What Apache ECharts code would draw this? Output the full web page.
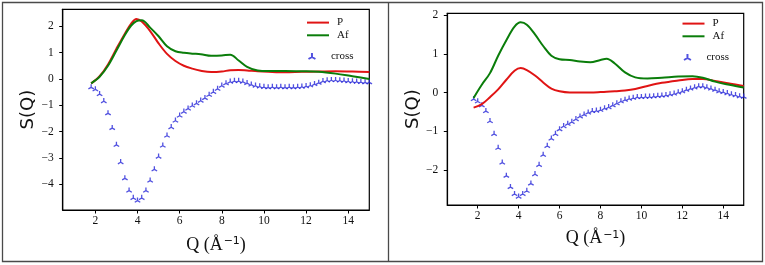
<!DOCTYPE html>
<html>
<head>
<meta charset="utf-8">
<script src="https://cdn.jsdelivr.net/npm/echarts@6/dist/echarts.min.js"></script>
<style>
html,body{margin:0;padding:0;background:#fff;}
#c{width:765px;height:265px;}
</style>
</head>
<body>
<div id="c"></div>
<script>
// ---------- data ----------
// Left panel: smooth curves
const qLineL = [1.8, 2.2, 2.6, 3.0, 3.4, 3.7, 3.95, 4.2, 4.6, 5.0, 5.4, 5.8, 6.2, 6.6, 7.0, 7.5, 8.0, 8.4, 8.8, 9.2, 9.7, 10.2, 11.0, 11.8, 12.6, 13.4, 14.2, 15.0];
const pL  = [-0.17, 0.10, 0.55, 1.15, 1.72, 2.10, 2.28, 2.18, 1.82, 1.35, 0.95, 0.68, 0.50, 0.39, 0.31, 0.26, 0.28, 0.33, 0.34, 0.32, 0.29, 0.27, 0.25, 0.27, 0.28, 0.29, 0.28, 0.26];
const afL = [-0.17, 0.08, 0.50, 1.08, 1.67, 2.03, 2.20, 2.23, 1.95, 1.62, 1.24, 1.05, 0.99, 0.96, 0.94, 0.88, 0.89, 0.92, 0.70, 0.46, 0.32, 0.30, 0.30, 0.29, 0.27, 0.20, 0.10, 0.00];

// Right panel: smooth curves
const qLineR = [1.8, 2.2, 2.6, 3.0, 3.4, 3.8, 4.1, 4.4, 4.8, 5.2, 5.6, 6.0, 6.5, 7.0, 7.5, 8.0, 8.3, 8.7, 9.2, 9.7, 10.3, 11.0, 11.8, 12.5, 13.0, 13.6, 14.3, 15.0];
const pR  = [-0.39, -0.30, -0.12, 0.08, 0.33, 0.56, 0.63, 0.58, 0.44, 0.26, 0.10, 0.03, 0.00, 0.00, 0.00, 0.01, 0.02, 0.03, 0.05, 0.09, 0.17, 0.25, 0.31, 0.35, 0.35, 0.30, 0.23, 0.17];
const afR = [-0.14, 0.20, 0.50, 0.95, 1.35, 1.70, 1.81, 1.75, 1.50, 1.20, 0.95, 0.86, 0.84, 0.80, 0.78, 0.84, 0.87, 0.75, 0.52, 0.39, 0.36, 0.38, 0.41, 0.42, 0.38, 0.28, 0.20, 0.13];

// Cross markers (Q grid shared by both panels)
const qCross = [1.8, 2.0, 2.2, 2.4, 2.6, 2.8, 3.0, 3.2, 3.4, 3.6, 3.8, 4.0, 4.2, 4.4, 4.6, 4.8, 5.0, 5.2, 5.4, 5.6, 5.8, 6.0, 6.2, 6.4, 6.6, 6.8, 7.0, 7.2, 7.4, 7.6, 7.8, 8.0, 8.2, 8.4, 8.6, 8.8, 9.0, 9.2, 9.4, 9.6, 9.8, 10.0, 10.2, 10.4, 10.6, 10.8, 11.0, 11.2, 11.4, 11.6, 11.8, 12.0, 12.2, 12.4, 12.6, 12.8, 13.0, 13.2, 13.4, 13.6, 13.8, 14.0, 14.2, 14.4, 14.6, 14.8, 15.0];
const crossL = [-0.29, -0.37, -0.55, -0.82, -1.28, -1.84, -2.48, -3.14, -3.75, -4.22, -4.50, -4.60, -4.50, -4.22, -3.84, -3.41, -2.93, -2.51, -2.13, -1.81, -1.56, -1.37, -1.22, -1.10, -0.99, -0.90, -0.80, -0.70, -0.58, -0.47, -0.35, -0.23, -0.14, -0.08, -0.05, -0.05, -0.08, -0.13, -0.19, -0.23, -0.26, -0.28, -0.29, -0.28, -0.29, -0.28, -0.29, -0.28, -0.29, -0.28, -0.27, -0.25, -0.22, -0.17, -0.12, -0.06, -0.03, -0.02, -0.02, -0.03, -0.04, -0.06, -0.07, -0.08, -0.09, -0.10, -0.10];
const crossR = [-0.15, -0.21, -0.31, -0.46, -0.72, -1.05, -1.41, -1.79, -2.13, -2.42, -2.60, -2.67, -2.60, -2.52, -2.33, -2.09, -1.85, -1.59, -1.36, -1.17, -1.05, -0.93, -0.85, -0.79, -0.74, -0.67, -0.60, -0.55, -0.50, -0.46, -0.45, -0.43, -0.39, -0.36, -0.31, -0.26, -0.21, -0.17, -0.14, -0.12, -0.10, -0.10, -0.09, -0.09, -0.08, -0.07, -0.06, -0.05, -0.03, -0.01, 0.02, 0.05, 0.09, 0.12, 0.15, 0.18, 0.18, 0.15, 0.12, 0.09, 0.05, 0.03, 0.00, -0.03, -0.05, -0.08, -0.09];

// Tick labels
const xTicks  = [2, 4, 6, 8, 10, 12, 14];
const yTicksL = [-4, -3, -2, -1, 0, 1, 2];
const yTicksR = [-2, -1, 0, 1, 2];

// ---------- chart ----------
const RED = '#e01414', GREEN = '#0a7d0a', BLUE = '#2626d8';
const SERIF = 'Liberation Serif';
const TRI = 'path://M0,0 L0,-1 M0,0 L-0.866,0.5 M0,0 L0.866,0.5';

const zip = (a, b) => a.map((v, i) => [v, b[i]]);
const minus = v => String(v).replace('-', '\u2212');

function xAxis(gi, min, gap) {
  return {
    type: 'value', gridIndex: gi, min: min, max: 15,
    name: 'Q (\u00c5{sup|\u22121})', nameLocation: 'middle', nameGap: gap,
    nameTextStyle: { fontFamily: SERIF, fontSize: 18, color: '#111', verticalAlign: 'top',
      rich: { sup: { fontFamily: 'DejaVu Sans', fontSize: 11, verticalAlign: 'top', padding: [0, 0, 0, 1] } } },
    axisLine: { show: true, onZero: false, lineStyle: { color: '#000', width: 1.2 } },
    axisTick: { show: true, inside: false, length: 3.5, customValues: xTicks, lineStyle: { color: '#000', width: 1 } },
    axisLabel: { customValues: xTicks, margin: 5, fontFamily: SERIF, fontSize: 11.5, color: '#111', formatter: v => minus(v) },
    splitLine: { show: false }
  };
}
function yAxis(gi, min, max, ticks) {
  return {
    type: 'value', gridIndex: gi, min: min, max: max,
    name: 'S(Q)', nameLocation: 'middle', nameGap: 18,
    nameTextStyle: { fontFamily: 'DejaVu Sans', fontSize: 18, color: '#111' },
    axisLine: { show: true, onZero: false, lineStyle: { color: '#000', width: 1.2 } },
    axisTick: { show: true, inside: false, length: 3.5, customValues: ticks, lineStyle: { color: '#000', width: 1 } },
    axisLabel: { customValues: ticks, margin: 9, fontFamily: SERIF, fontSize: 11.5, color: '#111', formatter: v => minus(v) },
    splitLine: { show: false }
  };
}
function lineSeries(name, gi, xs, ys, color) {
  return {
    name: name, type: 'line', xAxisIndex: gi, yAxisIndex: gi,
    data: zip(xs, ys), smooth: 0.35, symbol: 'none',
    lineStyle: { color: color, width: 2 }, itemStyle: { color: color }, animation: false
  };
}
function crossSeries(gi, ys) {
  return {
    name: 'cross', type: 'scatter', xAxisIndex: gi, yAxisIndex: gi,
    data: zip(qCross, ys), symbol: TRI, symbolSize: 5.5, symbolKeepAspect: true,
    itemStyle: { color: 'none', borderColor: BLUE, borderWidth: 1.3 }, animation: false
  };
}
function legends(left, top) {
  const ts = { fontFamily: SERIF, fontSize: 11, color: '#111', padding: [0, 0, 0, 3] };
  return [
    { data: ['P', 'Af'], orient: 'vertical', left: left, top: top, padding: 0, itemGap: 1.5,
      itemWidth: 22, itemHeight: 14, textStyle: ts, selectedMode: false,
      itemStyle: { opacity: 0 }, lineStyle: { width: 2 } },
    { data: ['cross'], orient: 'vertical', left: left, top: top + 33.5, padding: 0,
      itemWidth: 22, itemHeight: 6, textStyle: ts, selectedMode: false }
  ];
}

const chart = echarts.init(document.getElementById('c'), null, { renderer: 'canvas' });
chart.setOption({
  backgroundColor: '#fff',
  animation: false,
  grid: [
    { left: 62.7, top: 9.3, width: 306.6, height: 200.7, show: true, borderColor: '#000', borderWidth: 1.2, backgroundColor: 'transparent' },
    { left: 447.3, top: 13.3, width: 296.4, height: 191.7, show: true, borderColor: '#000', borderWidth: 1.2, backgroundColor: 'transparent' }
  ],
  xAxis: [xAxis(0, 0.45, 26), xAxis(1, 0.514, 24.5)],
  yAxis: [yAxis(0, -4.985, 2.646, yTicksL), yAxis(1, -2.903, 2.044, yTicksR)],
  legend: legends(306, 17).concat(legends(681.5, 18)),
  series: [
    lineSeries('P', 0, qLineL, pL, RED),
    lineSeries('Af', 0, qLineL, afL, GREEN),
    crossSeries(0, crossL),
    lineSeries('P', 1, qLineR, pR, RED),
    lineSeries('Af', 1, qLineR, afR, GREEN),
    crossSeries(1, crossR)
  ],
  graphic: [
    { type: 'rect', shape: { x: 2.5, y: 2.5, width: 760, height: 259 }, style: { fill: 'none', stroke: '#4a4a4a', lineWidth: 1.3 }, silent: true },
    { type: 'line', shape: { x1: 388.5, y1: 2.5, x2: 388.5, y2: 261.5 }, style: { stroke: '#4a4a4a', lineWidth: 1.3 }, silent: true }
  ]
});
</script>
</body>
</html>
